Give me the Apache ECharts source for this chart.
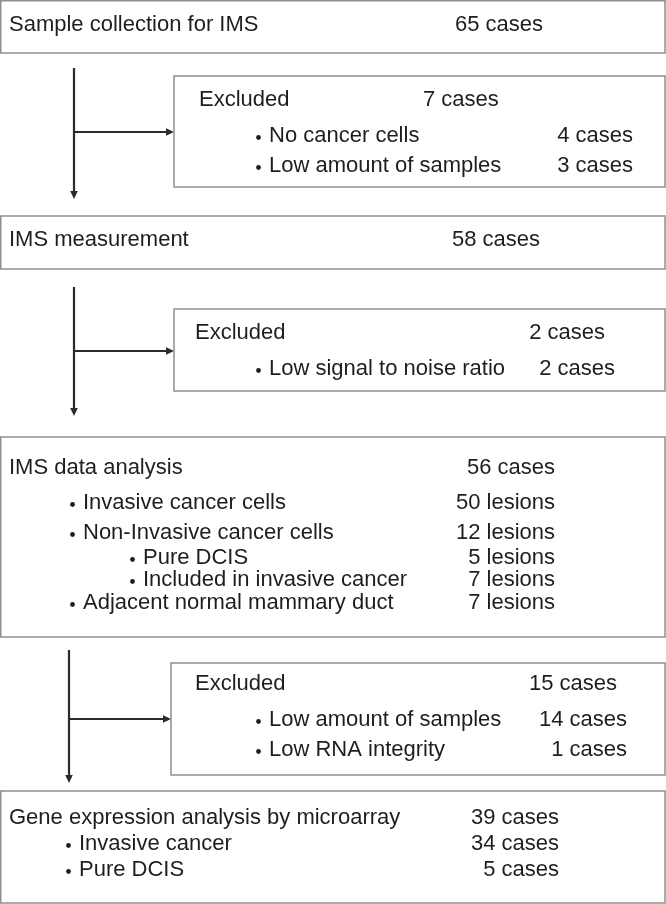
<!DOCTYPE html>
<html>
<head>
<meta charset="utf-8">
<script src="https://cdn.jsdelivr.net/npm/echarts@6/dist/echarts.min.js"></script>
<style>
  html, body { margin: 0; padding: 0; background: #fff; }
  #main { width: 666px; height: 904px; }
</style>
</head>
<body>
<div id="main"></div>
<script>
// flow stages (main column)
const stageLabels = ['Sample collection for IMS', 'IMS measurement', 'IMS data analysis', 'Gene expression analysis by microarray'];
const stageCounts = [65, 58, 56, 39];

// exclusion boxes
const excludedTotals = [7, 2, 15];
const exclusionReasons = [
  ['No cancer cells', 'Low amount of samples'],
  ['Low signal to noise ratio'],
  ['Low amount of samples', 'Low RNA integrity']
];
const exclusionCounts = [[4, 3], [2], [14, 1]];

// IMS data analysis breakdown
const analysisItems = ['Invasive cancer cells', 'Non-Invasive cancer cells', 'Pure DCIS', 'Included in invasive cancer', 'Adjacent normal mammary duct'];
const analysisLevels = [1, 1, 2, 2, 1];
const analysisLesions = [50, 12, 5, 7, 7];

// microarray breakdown
const microarrayItems = ['Invasive cancer', 'Pure DCIS'];
const microarrayCases = [34, 5];

const FONT = '22px "Liberation Sans", Arial, sans-serif';
const TXT = '#1e1e1e';
const BORDER = '#8f8f8f';
const LINE = '#2b2b2b';

const els = [];

function box(x1, y1, x2, y2) {
  els.push({
    type: 'rect',
    shape: { x: x1, y: y1, width: x2 - x1, height: y2 - y1 },
    style: { fill: '#fff', stroke: BORDER, lineWidth: 1.5 }
  });
}
function text(str, x, y, align) {
  els.push({
    type: 'text',
    x: x, y: y,
    style: { text: str, font: FONT, fill: TXT, align: align || 'left', verticalAlign: 'middle' }
  });
}
// bullet item: small dot just left of the text
function item(str, x, y) {
  els.push({ type: 'circle', shape: { cx: x - 10.5, cy: y + 1.5, r: 2.4 }, style: { fill: TXT } });
  text(str, x, y);
}
function arrow(x, yTop, yBot, yBranch, xBranchEnd) {
  els.push({ type: 'line', shape: { x1: x, y1: yTop, x2: x, y2: yBot - 6 }, style: { stroke: LINE, lineWidth: 2.2 } });
  els.push({ type: 'polygon', shape: { points: [[x - 3.8, yBot - 8], [x + 3.8, yBot - 8], [x, yBot]] }, style: { fill: LINE } });
  els.push({ type: 'line', shape: { x1: x, y1: yBranch, x2: xBranchEnd - 6, y2: yBranch }, style: { stroke: LINE, lineWidth: 2.2 } });
  els.push({ type: 'polygon', shape: { points: [[xBranchEnd - 8, yBranch - 3.8], [xBranchEnd - 8, yBranch + 3.8], [xBranchEnd, yBranch]] }, style: { fill: LINE } });
}
const cases = n => n + ' cases';
const lesions = n => n + ' lesions';

// stage 1
box(0.75, 0.75, 665, 53);
text(stageLabels[0], 9, 25);
text(cases(stageCounts[0]), 455, 25);

arrow(74, 68, 199, 132, 174);

// excluded 1
box(174, 76, 665, 187);
text('Excluded', 199, 100);
text(cases(excludedTotals[0]), 423, 100);
[136, 166].forEach((y, i) => {
  item(exclusionReasons[0][i], 269, y);
  text(cases(exclusionCounts[0][i]), 633, y, 'right');
});

// stage 2
box(0.75, 216, 665, 269);
text(stageLabels[1], 9, 240);
text(cases(stageCounts[1]), 452, 240);

arrow(74, 287, 416, 351, 174);

// excluded 2
box(174, 309, 665, 391);
text('Excluded', 195, 333);
text(cases(excludedTotals[1]), 605, 333, 'right');
item(exclusionReasons[1][0], 269, 369);
text(cases(exclusionCounts[1][0]), 615, 369, 'right');

// stage 3
box(0.75, 437, 665, 637);
text(stageLabels[2], 9, 468);
text(cases(stageCounts[2]), 555, 468, 'right');
const analysisY = [503, 533, 558, 580, 603];
analysisItems.forEach((s, i) => {
  item(s, analysisLevels[i] === 1 ? 83 : 143, analysisY[i]);
  text(lesions(analysisLesions[i]), 555, analysisY[i], 'right');
});

arrow(69, 650, 783, 719, 171);

// excluded 3
box(171, 663, 665, 775);
text('Excluded', 195, 684);
text(cases(excludedTotals[2]), 617, 684, 'right');
[720, 750].forEach((y, i) => {
  item(exclusionReasons[2][i], 269, y);
  text(cases(exclusionCounts[2][i]), 627, y, 'right');
});

// stage 4
box(0.75, 791, 665, 903);
text(stageLabels[3], 9, 818);
text(cases(stageCounts[3]), 559, 818, 'right');
[844, 870].forEach((y, i) => {
  item(microarrayItems[i], 79, y);
  text(cases(microarrayCases[i]), 559, y, 'right');
});

const chart = echarts.init(document.getElementById('main'));
chart.setOption({
  backgroundColor: '#fff',
  animation: false,
  graphic: { elements: els }
});
</script>
</body>
</html>
